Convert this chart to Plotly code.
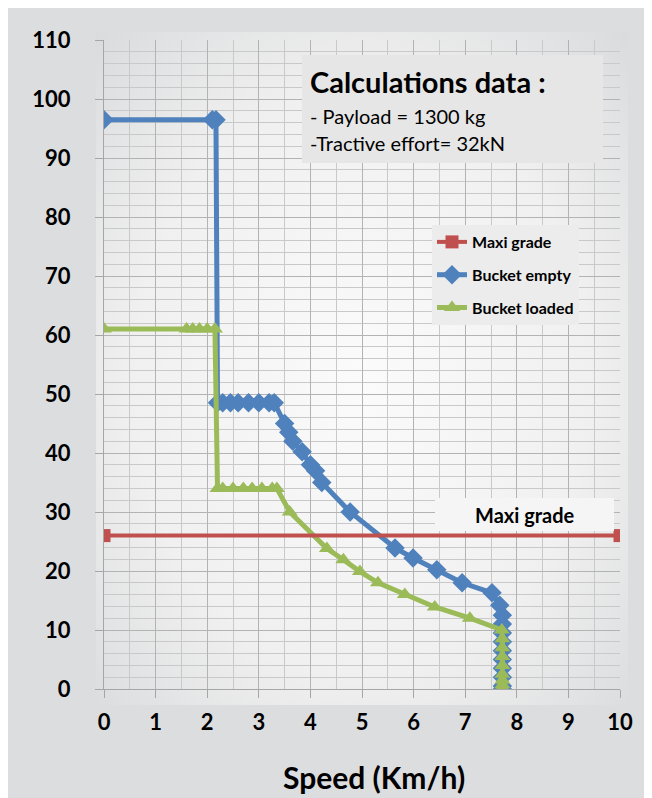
import base64
import plotly.graph_objects as go

# ---------------- data ----------------
empty_x = [0, 2.1, 2.17, 2.2, 2.3, 2.45, 2.6, 2.8, 3.0, 3.2, 3.3, 3.5, 3.58, 3.66, 3.84, 4.0, 4.1,
           4.22, 4.77, 5.64, 5.99, 6.45, 6.94, 7.52, 7.67, 7.72, 7.72, 7.72, 7.72, 7.72, 7.72,
           7.72, 7.72, 7.72, 7.72]
empty_y = [96.5, 96.5, 96.5, 48.5, 48.5, 48.5, 48.5, 48.5, 48.5, 48.5, 48.5, 45, 43.5, 42, 40.2, 38,
           37, 35, 30, 23.9, 22.2, 20.2, 18, 16.3, 14.2, 12.5, 11, 9.5, 8, 6.5, 5, 3.5, 2, 0.5, 0]

loaded_x = [0, 1.6, 1.72, 1.85, 2.0, 2.15, 2.2, 2.3, 2.5, 2.7, 2.87, 3.06, 3.26, 3.35, 3.6, 4.32,
            4.64, 4.96, 5.31, 5.83, 6.41, 7.09, 7.71, 7.72, 7.72, 7.72, 7.72, 7.72, 7.72, 7.72,
            7.72, 7.72]
loaded_y = [61, 61, 61, 61, 61, 61, 34, 34, 34, 34, 34, 34, 34, 34, 30, 23.8, 21.9, 19.9, 18, 16,
            13.9, 12, 10, 8.5, 7, 5.5, 4, 2.5, 1.5, 0.7, 0.2, 0]

grade_x = [0, 10]
grade_y = [26, 26]

x_ticks = [0, 1, 2, 3, 4, 5, 6, 7, 8, 9, 10]
y_ticks = [0, 10, 20, 30, 40, 50, 60, 70, 80, 90, 100, 110]

BLUE = "#4f81bd"
GREEN = "#9bbb59"
RED = "#c0504d"
FONT = "Lato"

fig = go.Figure()
fig.add_trace(go.Scatter(
    x=empty_x, y=empty_y, name="Bucket empty", mode="lines+markers",
    line=dict(color=BLUE, width=5),
    marker=dict(symbol="diamond", size=15, color=BLUE),
    legendrank=2, legendgroup="b"))
fig.add_trace(go.Scatter(
    x=loaded_x, y=loaded_y, name="Bucket loaded", mode="lines+markers",
    line=dict(color=GREEN, width=5),
    marker=dict(symbol="triangle-up", size=14, color=GREEN),
    legendrank=3, legendgroup="c"))
fig.add_trace(go.Scatter(
    x=grade_x, y=grade_y, name="Maxi grade", mode="lines+markers",
    line=dict(color=RED, width=4),
    marker=dict(symbol="square", size=13, color=RED),
    legendrank=1, legendgroup="a"))

# radial gradient background for plot area
svg = ('<svg xmlns="http://www.w3.org/2000/svg" width="200" height="200" preserveAspectRatio="none">'
       '<defs><radialGradient id="g" cx="50%" cy="52%" r="72%">'
       '<stop offset="0" stop-color="#fbfbfb"/><stop offset="0.6" stop-color="#f0f0f0"/>'
       '<stop offset="1" stop-color="#dadbdd"/></radialGradient></defs>'
       '<rect width="200" height="200" fill="url(#g)"/></svg>')
src = "data:image/svg+xml;base64," + base64.b64encode(svg.encode()).decode()

# the page body adds an 8px white margin on the left and top
W, H = 644, 790
L, R, T, B = 96, 32, 32, 109
PW, PH = W - L - R, H - T - B


def px(x):  # page pixel x -> paper
    return (x - 8 - L) / PW


def py(y):  # page pixel y -> paper
    return (H - B - (y - 8)) / PH


fig.add_layout_image(dict(
    source=src, xref="paper", yref="paper", x=px(96), y=py(32),
    sizex=(628 - 96) / PW, sizey=(705 - 32) / PH, sizing="stretch",
    layer="below", xanchor="left", yanchor="top"))

shapes = [
    # white outer strip on the right
    dict(type="rect", xref="paper", yref="paper", x0=px(645), x1=px(660), y0=py(820), y1=py(0),
         fillcolor="white", line_width=0, layer="below"),
    # calculations box
    dict(type="rect", xref="paper", yref="paper", x0=px(302), x1=px(603), y0=py(163), y1=py(55),
         fillcolor="#e6e6e6", line_width=0, layer="above"),
    # maxi grade label box
    dict(type="rect", xref="paper", yref="paper", x0=px(435), x1=px(614), y0=py(531), y1=py(498),
         fillcolor="#f5f5f5", line_width=0, layer="above"),
]

annotations = [
    dict(text="Calculations data :", xref="paper", yref="paper", x=px(308), y=py(82),
         xanchor="left", yanchor="middle", showarrow=False,
         font=dict(family=FONT, size=29, weight="bold", color="black")),
    dict(text="- Payload = 1300 kg", xref="paper", yref="paper", x=px(308), y=py(116),
         xanchor="left", yanchor="middle", showarrow=False,
         font=dict(family=FONT, size=20, color="black")),
    dict(text="-Tractive effort= 32kN", xref="paper", yref="paper", x=px(308), y=py(143),
         xanchor="left", yanchor="middle", showarrow=False,
         font=dict(family=FONT, size=20, color="black")),
    dict(text="Maxi grade", xref="paper", yref="paper", x=px(525), y=py(515),
         xanchor="center", yanchor="middle", showarrow=False,
         font=dict(family=FONT, size=20, weight="bold", color="black")),
    dict(text="Speed (Km/h)", xref="paper", yref="paper", x=px(374), y=py(797),
         xanchor="center", yanchor="bottom", showarrow=False,
         font=dict(family=FONT, size=30, weight="bold", color="black")),
]

fig.update_layout(
    width=W, height=H,
    margin=dict(l=L, r=R, t=T, b=B, pad=0),
    paper_bgcolor="#dcdddf",
    plot_bgcolor="#eeeeee",
    shapes=shapes,
    annotations=annotations,
    showlegend=True,
    legend=dict(
        x=px(432), y=py(225), xanchor="left", yanchor="top",
        bgcolor="#ececec", borderwidth=0,
        font=dict(family=FONT, size=16, weight="bold", color="black"),
        traceorder="grouped", tracegroupgap=9,
        itemwidth=30,
    ),
    xaxis=dict(
        range=[0, 10], tickvals=x_ticks, ticktext=[str(v) for v in x_ticks],
        showgrid=True, gridcolor="#b3b3b3", gridwidth=1,
        minor=dict(dtick=0.5, tick0=0, showgrid=True, gridcolor="#c9c9c9", gridwidth=1),
        ticks="outside", ticklen=8, tickcolor="#a6a6a6",
        showline=True, linecolor="#a6a6a6", zeroline=False,
        tickfont=dict(family=FONT, size=22, weight="bold", color="black"),
        ticklabelstandoff=6,
        fixedrange=True,
    ),
    yaxis=dict(
        range=[0, 110], tickvals=y_ticks, ticktext=[str(v) for v in y_ticks],
        showgrid=True, gridcolor="#b3b3b3", gridwidth=1,
        minor=dict(dtick=2, tick0=0, showgrid=True, gridcolor="#c9c9c9", gridwidth=1),
        ticks="outside", ticklen=8, tickcolor="#a6a6a6",
        showline=True, linecolor="#a6a6a6", zeroline=False,
        tickfont=dict(family=FONT, size=22, weight="bold", color="black"),
        ticklabelstandoff=20,
        fixedrange=True,
    ),
)

fig.write_html("out.html")
